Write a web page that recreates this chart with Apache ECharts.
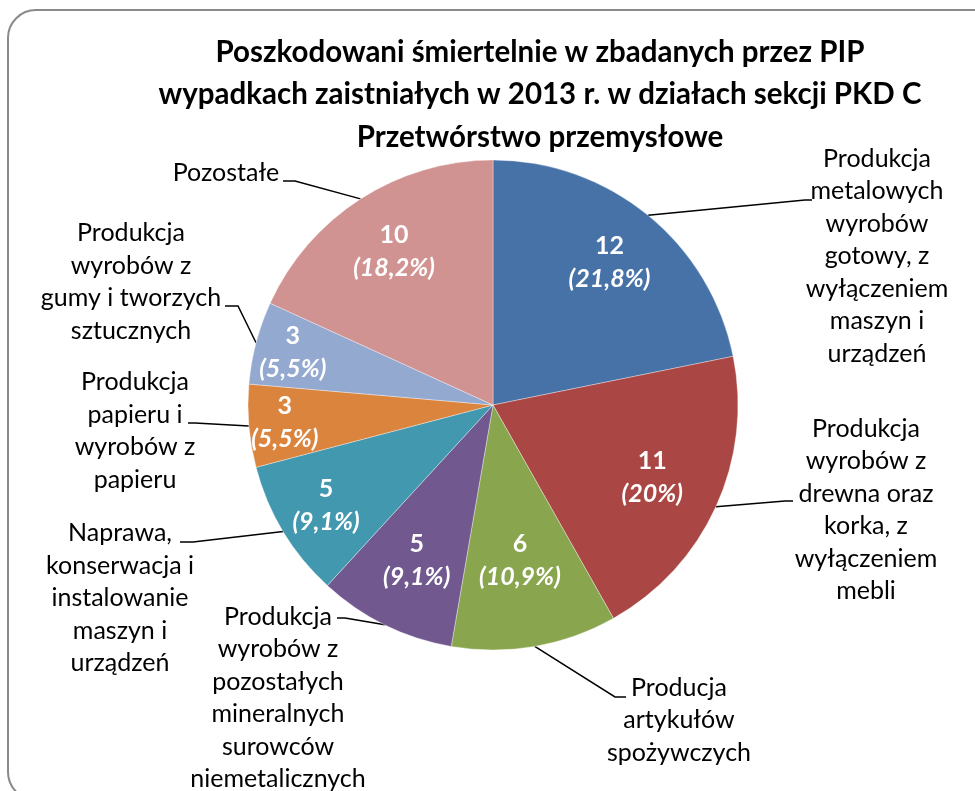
<!DOCTYPE html>
<html>
<head>
<meta charset="utf-8">
<script src="https://cdn.jsdelivr.net/npm/echarts@6/dist/echarts.min.js"></script>
<style>
  html, body { margin: 0; padding: 0; background: #fff; }
  #main { width: 975px; height: 791px; }
</style>
</head>
<body>
<div id="main"></div>
<script>
// dane z wykresu
const categories = [
  "Produkcja\nmetalowych\nwyrobów\ngotowy, z\nwyłączeniem\nmaszyn i\nurządzeń",
  "Produkcja\nwyrobów z\ndrewna oraz\nkorka, z\nwyłączeniem\nmebli",
  "Producja\nartykułów\nspożywczych",
  "Produkcja\nwyrobów z\npozostałych\nmineralnych\nsurowców\nniemetalicznych",
  "Naprawa,\nkonserwacja i\ninstalowanie\nmaszyn i\nurządzeń",
  "Produkcja\npapieru i\nwyrobów z\npapieru",
  "Produkcja\nwyrobów z\ngumy i tworzych\nsztucznych",
  "Pozostałe"
];
const values = [12, 11, 6, 5, 5, 3, 3, 10];
const percentLabels = ["21,8%", "20%", "10,9%", "9,1%", "9,1%", "5,5%", "5,5%", "18,2%"];
const colors = ["#4672A7", "#AA4643", "#89A54E", "#71588F", "#4198AF", "#DB843D", "#93A9CF", "#D19392"];

// układ etykiet (jak w Excelu): środek bloku tekstu i załamanie linii odniesienia
const labelPos = [[877, 256], [866, 510], [679, 720], [278, 698], [120, 598], [135, 431], [131, 282], [226, 173]];
const leaderEnds = [
  [[805, 200], [812, 200]],
  [[785, 501], [793, 501]],
  [[615, 697], [626, 697]],
  [[345, 618], [337, 618]],
  [[193, 542], [180, 542]],
  [[195, 423], [188, 423]],
  [[238, 306], [225, 306]],
  [[295, 181], [283, 181]]
];
// odległość etykiet wewnętrznych od środka koła
const innerLabelRadius = [181, 172, 155, 170, 192, 206, 204, 180];

const myChart = echarts.init(document.getElementById("main"));

const center = [493, 405];

const pieData = values.map((v, i) => ({
  name: categories[i],
  value: v,
  itemStyle: { color: colors[i] }
}));

// przezroczyste warstwy tylko dla etykiet wartości (po jednej na wycinek)
const valueLabelSeries = values.map((_, k) => ({
  type: "pie",
  center: center,
  radius: [innerLabelRadius[k] - 30, innerLabelRadius[k] + 30],
  startAngle: 90,
  clockwise: true,
  silent: true,
  data: values.map((v, i) => ({
    name: categories[i],
    value: v,
    label: { show: i === k }
  })),
  itemStyle: { color: "rgba(0,0,0,0)" },
  label: {
    position: "inside",
    formatter: function (p) {
      return "{v|" + p.value + "}\n{p|(" + percentLabels[p.dataIndex] + ")}";
    },
    rich: {
      v: { fontFamily: "Lato", fontSize: 25, fontWeight: "bold", color: "#fff", lineHeight: 33 },
      p: { fontFamily: "Lato", fontSize: 25, fontWeight: "bold", fontStyle: "italic", color: "#fff", lineHeight: 33 }
    }
  },
  labelLine: { show: false }
}));

const option = {
  animation: false,
  title: {
    text: "Poszkodowani śmiertelnie w zbadanych przez PIP\nwypadkach zaistniałych w 2013 r. w działach sekcji PKD C\nPrzetwórstwo przemysłowe",
    left: 540,
    top: 31,
    textAlign: "center",
    padding: 0,
    textStyle: {
      fontFamily: "Lato",
      fontSize: 29.5,
      fontWeight: "bold",
      color: "#000",
      lineHeight: 42.5
    }
  },
  graphic: [
    {
      type: "rect",
      shape: { x: 8, y: 10, width: 1000, height: 790, r: 28 },
      style: { fill: "none", stroke: "#8a8a8a", lineWidth: 2 },
      silent: true,
      z: -1
    }
  ],
  series: [
    {
      type: "pie",
      center: center,
      radius: [0, 245],
      startAngle: 90,
      clockwise: true,
      data: pieData,
      itemStyle: { borderColor: "rgba(255,255,255,0.6)", borderWidth: 0.6 },
      label: {
        show: true,
        position: "outside",
        fontFamily: "Lato",
        fontSize: 25,
        lineHeight: 32.5,
        color: "#000",
        align: "center"
      },
      labelLine: {
        show: true,
        length: 10,
        length2: 4,
        lineStyle: { color: "#000", width: 1.5 }
      },
      labelLayout: function (params) {
        const i = params.dataIndex;
        const p = labelPos[i];
        const start = params.labelLinePoints ? params.labelLinePoints[0] : null;
        const out = { x: p[0], y: p[1], align: "center", verticalAlign: "middle" };
        if (start) {
          out.labelLinePoints = [start, leaderEnds[i][0], leaderEnds[i][1]];
        }
        return out;
      },
      emphasis: { disabled: true }
    }
  ].concat(valueLabelSeries)
};

myChart.setOption(option);
window.addEventListener("resize", () => {
  myChart.resize();
});
</script>
</body>
</html>
